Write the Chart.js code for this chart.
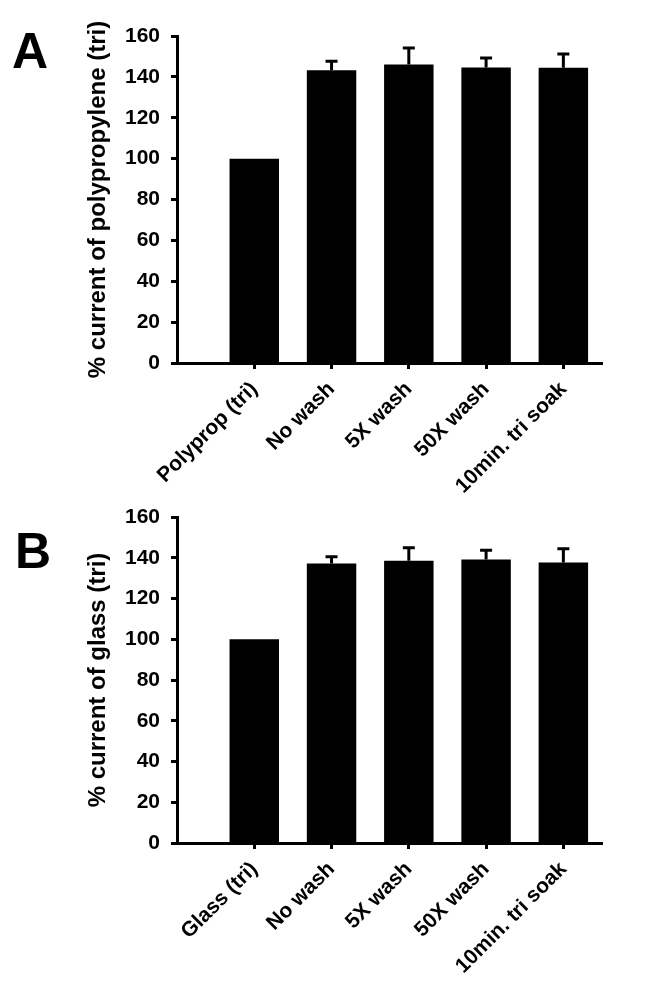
<!DOCTYPE html>
<html>
<head>
<meta charset="utf-8">
<script src="https://cdn.jsdelivr.net/npm/chart.js@4"></script>
<style>
    body { margin: 0; background: #fff; }
    .panel { position: absolute; left: 0; width: 654px; }
    .letter {
        position: absolute;
        font-family: "Liberation Sans", Arial, sans-serif;
        font-weight: bold;
        font-size: 50px;
        line-height: 50px;
        color: #000;
    }
</style>
</head>
<body>
<div class="panel" style="top: 481px; height: 504px;">
    <div class="letter" style="left: 15px; top: 45px;">B</div>
    <canvas id="chartB" width="654" height="504"></canvas>
</div>
<div class="panel" style="top: 0; height: 500px;">
    <div class="letter" style="left: 12px; top: 26px;">A</div>
    <canvas id="chartA" width="654" height="500"></canvas>
</div>
<script>
const labelsA = ['Polyprop (tri)', 'No wash', '5X wash', '50X wash', '10min. tri soak'];
const valuesA = [100, 143.3, 146.1, 144.6, 144.5];
const errorsA = [0, 4.4, 8.0, 4.6, 6.7];

const labelsB = ['Glass (tri)', 'No wash', '5X wash', '50X wash', '10min. tri soak'];
const valuesB = [100, 137.2, 138.5, 139.1, 137.7];
const errorsB = [0, 3.3, 6.4, 4.6, 6.7];

const yTicks = [0, 20, 40, 60, 80, 100, 120, 140, 160];

const FONT = '"Liberation Sans", Arial, sans-serif';

// upward-only SEM bars, drawn on top of the bars
const errorBars = {
    id: 'errorBars',
    afterDatasetsDraw(chart, args, opts) {
        const ctx = chart.ctx;
        const meta = chart.getDatasetMeta(0);
        const yScale = chart.scales.y;
        const values = chart.data.datasets[0].data.map((d) => d.y);
        ctx.save();
        ctx.strokeStyle = '#000';
        ctx.lineWidth = 3;
        meta.data.forEach((bar, i) => {
            const err = opts.errors[i];
            if (!err) return;
            const yTop = yScale.getPixelForValue(values[i] + err);
            const yBase = yScale.getPixelForValue(values[i]);
            ctx.beginPath();
            ctx.moveTo(bar.x, yBase);
            ctx.lineTo(bar.x, yTop);
            ctx.moveTo(bar.x - 6, yTop);
            ctx.lineTo(bar.x + 6, yTop);
            ctx.stroke();
        });
        ctx.restore();
    }
};

const makeChart = (canvasId, labels, values, errors, yTitle, xHeight) => {
    const ctx = document.getElementById(canvasId).getContext('2d');
    return new Chart(ctx, {
        type: 'bar',
        data: {
            datasets: [{
                data: labels.map((label, i) => ({ x: i + 1, y: values[i] })),
                backgroundColor: '#000',
                borderWidth: 0,
                barPercentage: 0.64,
                categoryPercentage: 1,
            }]
        },
        options: {
            responsive: false,
            animation: false,
            layout: { padding: { top: 36, right: 52, left: 0, bottom: 0 } },
            plugins: {
                legend: { display: false },
                tooltip: { enabled: false },
                errorBars: { errors: errors },
            },
            scales: {
                x: {
                    type: 'linear',
                    min: 0,
                    max: 5.5,
                    offset: false,
                    afterBuildTicks: (scale) => {
                        scale.ticks = labels.map((l, i) => ({ value: i + 1 }));
                    },
                    afterFit: (scale) => { scale.height = xHeight; },
                    grid: {
                        offset: false,
                        drawOnChartArea: false,
                        drawTicks: true,
                        tickLength: 6,
                        tickWidth: 3,
                        tickColor: '#000',
                    },
                    border: { display: true, width: 3, color: '#000' },
                    ticks: {
                        autoSkip: false,
                        maxRotation: 45,
                        minRotation: 45,
                        padding: 8,
                        color: '#000',
                        font: { family: FONT, size: 21, weight: 'bold' },
                        callback: (v) => labels[v - 1],
                    },
                },
                y: {
                    min: 0,
                    max: 160,
                    afterBuildTicks: (scale) => {
                        scale.ticks = yTicks.map((v) => ({ value: v }));
                    },
                    afterFit: (scale) => { scale.width = 177; },
                    grid: {
                        drawOnChartArea: false,
                        drawTicks: true,
                        tickLength: 6,
                        tickWidth: 3,
                        tickColor: '#000',
                    },
                    border: { display: true, width: 3, color: '#000' },
                    ticks: {
                        padding: 11,
                        color: '#000',
                        font: { family: FONT, size: 21, weight: 'bold' },
                    },
                    title: {
                        display: true,
                        text: yTitle,
                        color: '#000',
                        font: { family: FONT, size: 24, weight: 'bold' },
                        padding: { top: 84, bottom: 0 },
                    },
                },
            },
        },
        plugins: [errorBars],
    });
};

makeChart('chartA', labelsA, valuesA, errorsA, '% current of polypropylene (tri)', 137);
makeChart('chartB', labelsB, valuesB, errorsB, '% current of glass (tri)', 142);
</script>
</body>
</html>
